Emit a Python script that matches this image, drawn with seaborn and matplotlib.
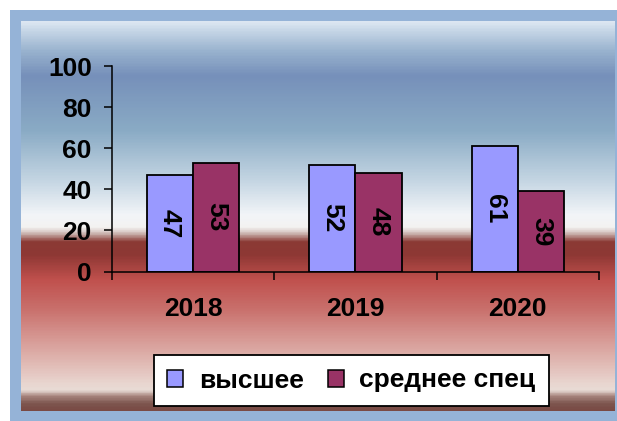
import numpy as np
import pandas as pd
import matplotlib
matplotlib.use('Agg')
import matplotlib.pyplot as plt
from matplotlib.colors import LinearSegmentedColormap
from matplotlib.patches import Rectangle, Patch
import seaborn as sns

# data
years = ['2018', '2019', '2020']
series = ['высшее', 'среднее спец']
vysshee = [47, 52, 61]
sredspec = [53, 48, 39]
colors = ['#9999FF', '#993366']
yticks = [0, 20, 40, 60, 80, 100]

df = pd.DataFrame({
    'year': years * 2,
    'value': vysshee + sredspec,
    'type': [series[0]] * 3 + [series[1]] * 3,
})

sns.set_style('ticks')
plt.rcParams['font.family'] = ['Liberation Sans', 'DejaVu Sans']
plt.rcParams['text.color'] = 'black'
plt.rcParams['xtick.color'] = 'black'
plt.rcParams['ytick.color'] = 'black'

W, H = 617, 421
fig = plt.figure(figsize=(W / 100, H / 100), dpi=100, facecolor='white')

# light blue frame
fig.patches.append(Rectangle((10 / W, 0), 1 - 10 / W, 1 - 10 / H, transform=fig.transFigure,
                             facecolor='#95B3D7', edgecolor='none', zorder=0))

# gradient panel
stops = [
    (0.0, '#DCE6F2'), (0.023, '#C5D5E6'), (0.075, '#98B2CE'), (0.138, '#7690BA'),
    (0.28, '#8AABC5'), (0.41, '#C5D6E3'), (0.497, '#F2F5F8'), (0.53, '#F4F2F1'),
    (0.546, '#C8B0AB'), (0.567, '#8B3A35'), (0.60, '#8E3834'), (0.664, '#C0504D'),
    (0.74, '#C9706C'), (0.83, '#D9A09B'), (0.933, '#E9D6D0'), (0.95, '#E8DCD6'),
    (0.965, '#A8857E'), (0.983, '#7E5750'), (1.0, '#7A4B45'),
]
cmap = LinearSegmentedColormap.from_list('bg', stops)
bg = fig.add_axes([21 / W, 10 / H, 594 / W, 390 / H], zorder=0.5)
bg.imshow(np.linspace(0, 1, 400)[:, None], aspect='auto', cmap=cmap,
          extent=[0, 1, 0, 1], origin='upper')
bg.set_axis_off()

ax = fig.add_axes([112 / W, 149.5 / H, 487 / W, 205.5 / H], zorder=1)
ax.patch.set_alpha(0)
sns.barplot(data=df, x='year', y='value', hue='type', palette=colors, saturation=1,
            width=0.57, edgecolor='black', linewidth=1.3, ax=ax)
ax.legend_.remove()

for c in ax.containers:
    ax.bar_label(c, fmt='%d', label_type='center', rotation=-90, fontsize=19,
                 fontweight='bold', color='black')

ax.set_xlim(-0.5, 2.5)
ax.set_ylim(0, 100)
ax.set_yticks(yticks)
ax.set_xlabel('')
ax.set_ylabel('')
ax.set_xticks([-0.5, 0.5, 1.5, 2.5], minor=True)
ax.tick_params(axis='x', which='major', length=0, pad=18, labelsize=19)
ax.tick_params(axis='x', which='minor', length=6, width=1.1, color='black')
ax.tick_params(axis='y', length=6, width=1.1, pad=8.5, labelsize=19, color='black')
for lab in ax.get_xticklabels() + ax.get_yticklabels():
    lab.set_fontweight('bold')
    lab.set_color('black')
for s in ['top', 'right']:
    ax.spines[s].set_visible(False)
for s in ['left', 'bottom']:
    ax.spines[s].set_color('black')
    ax.spines[s].set_linewidth(1.1)

handles = [Patch(facecolor=c, edgecolor='black', linewidth=1.1) for c in colors]
leg = fig.legend(handles, series, loc='center', bbox_to_anchor=(351.5 / W, 1 - 380.5 / H),
                 ncol=2, frameon=True, fancybox=False, framealpha=1, edgecolor='black',
                 prop={'weight': 'bold', 'size': 19}, handlelength=0.6, handleheight=0.6,
                 handletextpad=0.6, columnspacing=0.9, borderpad=0.5)
leg.get_frame().set_linewidth(1.3)
leg.set_zorder(2)

fig.savefig('out.png', dpi=100)
